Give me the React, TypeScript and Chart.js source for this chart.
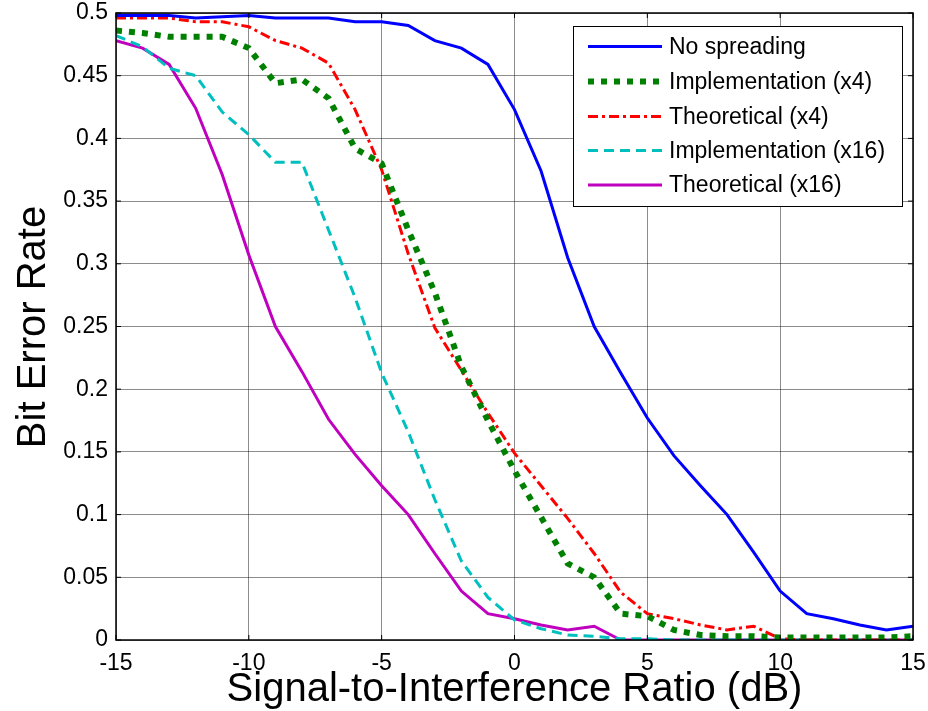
import React, { useEffect, useRef } from "react";
import { Chart, registerables } from "chart.js";

Chart.register(...registerables);

const sirDb = [-15, -14, -13, -12, -11, -10, -9, -8, -7, -6, -5, -4, -3, -2, -1, 0, 1, 2, 3, 4, 5, 6, 7, 8, 9, 10, 11, 12, 13, 14, 15];

const noSpreading = [0.498, 0.498, 0.498, 0.496, 0.497, 0.498, 0.496, 0.496, 0.496, 0.493, 0.493, 0.49, 0.478, 0.472, 0.459, 0.423, 0.374, 0.305, 0.25, 0.213, 0.177, 0.147, 0.123, 0.1, 0.07, 0.039, 0.021, 0.017, 0.012, 0.008, 0.011];
const implX4 = [0.486, 0.484, 0.481, 0.481, 0.481, 0.472, 0.444, 0.447, 0.432, 0.392, 0.38, 0.327, 0.277, 0.218, 0.175, 0.135, 0.098, 0.061, 0.05, 0.021, 0.019, 0.008, 0.004, 0.003, 0.003, 0.002, 0.002, 0.002, 0.002, 0.002, 0.003];
const theoX4 = [0.496, 0.496, 0.496, 0.493, 0.493, 0.489, 0.478, 0.472, 0.46, 0.423, 0.375, 0.308, 0.249, 0.215, 0.181, 0.149, 0.123, 0.097, 0.069, 0.038, 0.021, 0.017, 0.012, 0.008, 0.011, 0.001, 0, 0, 0, 0, 0];
const implX16 = [0.482, 0.473, 0.456, 0.45, 0.421, 0.403, 0.381, 0.381, 0.327, 0.273, 0.213, 0.166, 0.112, 0.063, 0.034, 0.016, 0.009, 0.004, 0.003, 0.001, 0.001, 0, 0, 0, 0, 0, 0, 0, 0, 0, 0];
const theoX16 = [0.478, 0.472, 0.459, 0.424, 0.371, 0.307, 0.25, 0.214, 0.176, 0.148, 0.123, 0.1, 0.069, 0.039, 0.021, 0.017, 0.012, 0.008, 0.011, 0, 0, 0, 0, 0, 0, 0, 0, 0, 0, 0, 0];

const seriesNames = ["No spreading", "Implementation (x4)", "Theoretical (x4)", "Implementation (x16)", "Theoretical (x16)"];
const xTickValues = [-15, -10, -5, 0, 5, 10, 15];
const yTickValues = [0, 0.05, 0.1, 0.15, 0.2, 0.25, 0.3, 0.35, 0.4, 0.45, 0.5];
const xTitle = "Signal-to-Interference Ratio (dB)";
const yTitle = "Bit Error Rate";

const FONT = "'Liberation Sans', Arial, sans-serif";

const styles = [
  { color: "#0000FF", width: 3, dash: [] as number[] },
  { color: "#008000", width: 6, dash: [6, 7] },
  { color: "#FF0000", width: 3, dash: [10, 4, 3, 4] },
  { color: "#00BFBF", width: 3, dash: [10, 6] },
  { color: "#BF00BF", width: 3, dash: [] as number[] },
];

const allSeries = [noSpreading, implX4, theoX4, implX16, theoX16];

const framePlugin = {
  id: "matlabFrame",
  afterDatasetsDraw(chart: any) {
    const { ctx, chartArea } = chart;
    const { left, right, top, bottom } = chartArea;
    const xs = chart.scales.x;
    const ys = chart.scales.y;
    ctx.save();
    ctx.strokeStyle = "#000";
    ctx.lineWidth = 1.5;
    ctx.setLineDash([]);
    ctx.strokeRect(left, top, right - left, bottom - top);
    ctx.lineWidth = 1;
    const tl = 5;
    xTickValues.forEach((v) => {
      const px = xs.getPixelForValue(v);
      ctx.beginPath();
      ctx.moveTo(px, bottom);
      ctx.lineTo(px, bottom - tl);
      ctx.moveTo(px, top);
      ctx.lineTo(px, top + tl);
      ctx.stroke();
    });
    yTickValues.forEach((v) => {
      const py = ys.getPixelForValue(v);
      ctx.beginPath();
      ctx.moveTo(left, py);
      ctx.lineTo(left + tl, py);
      ctx.moveTo(right, py);
      ctx.lineTo(right - tl, py);
      ctx.stroke();
    });

    // legend
    const lx = 573, ly = 26, lw = 329, lh = 180;
    ctx.fillStyle = "#fff";
    ctx.fillRect(lx, ly, lw, lh);
    ctx.strokeStyle = "#000";
    ctx.lineWidth = 1;
    ctx.strokeRect(lx + 0.5, ly + 0.5, lw, lh);
    const rows = [46.5, 81.5, 116.5, 150.5, 185];
    ctx.font = `23px ${FONT}`;
    ctx.textBaseline = "middle";
    ctx.textAlign = "left";
    seriesNames.forEach((name, i) => {
      const s = styles[i];
      const y = rows[i];
      ctx.strokeStyle = s.color;
      ctx.lineWidth = s.width;
      ctx.setLineDash(s.dash);
      ctx.beginPath();
      ctx.moveTo(588, y);
      ctx.lineTo(662, y);
      ctx.stroke();
      ctx.setLineDash([]);
      ctx.fillStyle = "#000";
      ctx.fillText(name, 669, y + 1);
    });

    // axis titles
    ctx.fillStyle = "#000";
    ctx.font = `40px ${FONT}`;
    ctx.textAlign = "center";
    ctx.textBaseline = "alphabetic";
    ctx.fillText(xTitle, (left + right) / 2, 701);
    ctx.save();
    ctx.translate(45, 327);
    ctx.rotate(-Math.PI / 2);
    ctx.fillText(yTitle, 0, 0);
    ctx.restore();
    ctx.restore();
  },
};

export default function App() {
  const canvasRef = useRef<HTMLCanvasElement | null>(null);

  useEffect(() => {
    const canvas = canvasRef.current;
    if (!canvas) return;
    const datasets = allSeries.map((vals, i) => ({
      label: seriesNames[i],
      data: sirDb.map((x, j) => ({ x, y: vals[j] })),
      borderColor: styles[i].color,
      backgroundColor: styles[i].color,
      borderWidth: styles[i].width,
      borderDash: styles[i].dash,
      borderCapStyle: "butt" as const,
      borderJoinStyle: "miter" as const,
      pointRadius: 0,
      tension: 0,
      fill: false,
      order: i,
    }));

    const chart = new Chart(canvas, {
      type: "line",
      data: { datasets },
      options: {
        animation: false,
        responsive: false,
        maintainAspectRatio: false,
        layout: { padding: { top: 13, right: 15, left: 0, bottom: 0 } },
        plugins: {
          legend: { display: false },
          tooltip: { enabled: false },
        },
        scales: {
          x: {
            type: "linear",
            min: -15,
            max: 15,
            afterBuildTicks: (scale: any) => {
              scale.ticks = xTickValues.map((v) => ({ value: v }));
            },
            afterFit: (scale: any) => {
              scale.height = 71;
              scale.paddingLeft = 0;
              scale.paddingRight = 0;
              scale.paddingTop = 0;
              scale.paddingBottom = 0;
            },
            grid: { color: "rgba(0,0,0,0.45)", lineWidth: 1, drawTicks: false },
            border: { display: false },
            ticks: {
              autoSkip: false,
              maxRotation: 0,
              padding: 10,
              color: "#000",
              font: { family: FONT, size: 23 },
              callback: (v: any) => String(v),
            },
          },
          y: {
            type: "linear",
            min: 0,
            max: 0.5,
            afterBuildTicks: (scale: any) => {
              scale.ticks = yTickValues.map((v) => ({ value: v }));
            },
            afterFit: (scale: any) => {
              scale.width = 116;
              scale.paddingLeft = 0;
              scale.paddingRight = 0;
              scale.paddingTop = 0;
              scale.paddingBottom = 0;
            },
            grid: { color: "rgba(0,0,0,0.45)", lineWidth: 1, drawTicks: false },
            border: { display: false },
            ticks: {
              autoSkip: false,
              padding: 8,
              color: "#000",
              font: { family: FONT, size: 23 },
              callback: (v: any) => String(Number(Number(v).toFixed(2))),
            },
          },
        },
      },
      plugins: [framePlugin],
    });
    return () => chart.destroy();
  }, []);

  return (
    <div style={{ position: "fixed", left: 0, top: 0, width: 928, height: 711, background: "#fff" }}>
      <canvas ref={canvasRef} width={928} height={711} style={{ width: 928, height: 711, display: "block" }} />
    </div>
  );
}
